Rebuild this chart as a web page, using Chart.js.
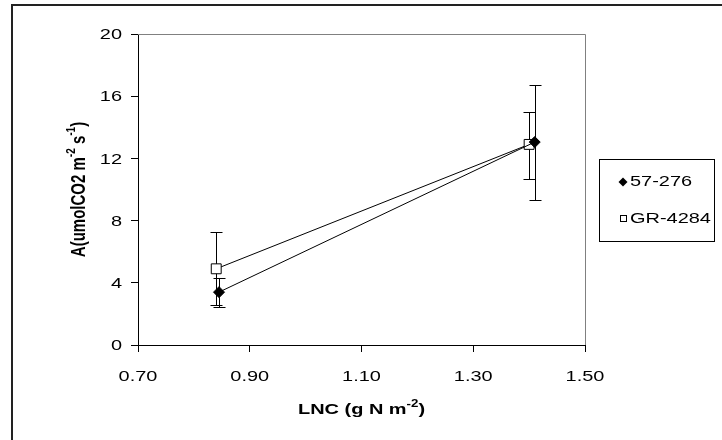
<!DOCTYPE html>
<html>
<head>
<meta charset="utf-8">
<script src="https://cdn.jsdelivr.net/npm/chart.js@4/dist/chart.umd.min.js"></script>
<style>
  html, body { margin: 0; padding: 0; background: #fff; }
  canvas { display: block; }
</style>
</head>
<body>
<canvas id="lnc-chart" width="722" height="440"></canvas>
<script>
// values
const seriesNames = ['57-276', 'GR-4284'];
const lnc57 = [0.845, 1.41];
const a57 = [3.4, 13.05];
const a57Lo = [2.45, 9.35];
const a57Hi = [4.3, 16.7];
const lncGR = [0.84, 1.40];
const aGR = [4.9, 12.9];
const aGRLo = [2.55, 10.7];
const aGRHi = [7.25, 15.0];
const xTicks = [0.70, 0.90, 1.10, 1.30, 1.50];
const yTicks = [0, 4, 8, 12, 16, 20];

const FONT = '"Liberation Sans", Arial, sans-serif';
const STRETCH = 1.33;  // the original picture is stretched sideways
const errLo = [a57Lo, aGRLo];
const errHi = [a57Hi, aGRHi];
const errX = [lnc57, lncGR];

const toPts = (xs, ys) => xs.map((x, i) => ({x: x, y: ys[i]}));

// error bars under the markers
const errorBars = {
    id: 'errorBars',
    beforeDatasetsDraw(chart) {
        const ctx = chart.ctx;
        const xs = chart.scales.x, ys = chart.scales.y;
        ctx.save();
        ctx.strokeStyle = '#000';
        ctx.lineWidth = 1;
        for (let d = 0; d < errX.length; d++) {
            for (let i = 0; i < errX[d].length; i++) {
                const px = Math.round(xs.getPixelForValue(errX[d][i])) + 0.5;
                const lo = Math.round(ys.getPixelForValue(errLo[d][i])) + 0.5;
                const hi = Math.round(ys.getPixelForValue(errHi[d][i])) + 0.5;
                ctx.beginPath();
                ctx.moveTo(px, lo); ctx.lineTo(px, hi);
                ctx.moveTo(px - 6, lo); ctx.lineTo(px + 6, lo);
                ctx.moveTo(px - 6, hi); ctx.lineTo(px + 6, hi);
                ctx.stroke();
            }
        }
        ctx.restore();
    }
};

function stretchedText(ctx, text, x, y, align) {
    ctx.save();
    ctx.translate(x, y);
    ctx.scale(STRETCH, 1);
    ctx.textAlign = align;
    ctx.fillText(text, 0, 0);
    ctx.restore();
}

// text pieces, some as superscripts; returns total width
function drawRich(ctx, parts, size, x, y, measureOnly) {
    let cx = x;
    for (const p of parts) {
        const s = p.sup ? Math.round(size * 0.65) : size;
        ctx.font = 'bold ' + s + 'px ' + FONT;
        if (!measureOnly) ctx.fillText(p.t, cx, p.sup ? y - size * 0.38 : y);
        cx += ctx.measureText(p.t).width;
    }
    return cx - x;
}

const decorations = {
    id: 'decorations',
    beforeDraw(chart) {
        const ctx = chart.ctx;
        ctx.save();
        ctx.fillStyle = '#fff';
        ctx.fillRect(0, 0, chart.width, chart.height);
        ctx.restore();
    },
    afterDraw(chart) {
        const ctx = chart.ctx;
        const a = chart.chartArea;
        const xs = chart.scales.x, ys = chart.scales.y;
        ctx.save();
        // outer frame
        ctx.strokeStyle = '#222';
        ctx.lineWidth = 2;
        ctx.strokeRect(12, 5, 900, 900);

        // plot area border, top and right
        ctx.strokeStyle = '#808080';
        ctx.lineWidth = 1;
        ctx.beginPath();
        ctx.moveTo(a.left, Math.round(a.top) + 0.5);
        ctx.lineTo(Math.round(a.right) + 0.5, Math.round(a.top) + 0.5);
        ctx.lineTo(Math.round(a.right) + 0.5, a.bottom);
        ctx.stroke();

        // tick labels
        ctx.fillStyle = '#000';
        ctx.textBaseline = 'middle';
        ctx.font = '15px ' + FONT;
        for (const t of xs.ticks) {
            stretchedText(ctx, t.value.toFixed(2), xs.getPixelForValue(t.value), 377, 'center');
        }
        for (const t of ys.ticks) {
            stretchedText(ctx, String(t.value), 122, ys.getPixelForValue(t.value) + 1, 'right');
        }

        // axis titles
        ctx.textAlign = 'left';
        const xParts = [{t: 'LNC (g N m'}, {t: '-2', sup: true}, {t: ')'}];
        const xw = drawRich(ctx, xParts, 15, 0, 0, true) * STRETCH;
        ctx.save();
        ctx.translate((a.left + a.right) / 2 - xw / 2, 410);
        ctx.scale(STRETCH, 1);
        drawRich(ctx, xParts, 15, 0, 0);
        ctx.restore();

        const yParts = [{t: 'A(umolCO2 m'}, {t: '-2', sup: true}, {t: ' s'}, {t: '-1', sup: true}, {t: ')'}];
        const yw = drawRich(ctx, yParts, 15, 0, 0, true);
        ctx.save();
        ctx.translate(79, (a.top + a.bottom) / 2);
        ctx.scale(STRETCH, 1);
        ctx.rotate(-Math.PI / 2);
        drawRich(ctx, yParts, 15, -yw / 2, 0);
        ctx.restore();

        // legend
        ctx.strokeStyle = '#000';
        ctx.lineWidth = 1;
        ctx.strokeRect(599.5, 159.5, 115, 82);
        ctx.font = '15px ' + FONT;
        ctx.fillStyle = '#000';
        stretchedText(ctx, seriesNames[0], 630, 182, 'left');
        stretchedText(ctx, seriesNames[1], 630, 219, 'left');
        // diamond
        ctx.beginPath();
        ctx.moveTo(623, 177.5); ctx.lineTo(627.5, 182); ctx.lineTo(623, 186.5); ctx.lineTo(618.5, 182);
        ctx.closePath();
        ctx.fill();
        // square
        ctx.fillStyle = '#fff';
        ctx.fillRect(620.5, 215.5, 6, 6);
        ctx.strokeRect(620.5, 215.5, 6, 6);
        ctx.restore();
    }
};

new Chart(document.getElementById('lnc-chart').getContext('2d'), {
    type: 'scatter',
    data: {
        datasets: [
            {
                label: seriesNames[0],
                data: toPts(lnc57, a57),
                showLine: true,
                borderColor: '#000',
                borderWidth: 1,
                pointStyle: 'rectRot',
                pointRadius: 5.5,
                pointBackgroundColor: '#000',
                pointBorderColor: '#000',
                pointBorderWidth: 1,
            },
            {
                label: seriesNames[1],
                data: toPts(lncGR, aGR),
                showLine: true,
                borderColor: '#000',
                borderWidth: 1,
                pointStyle: 'rect',
                pointRadius: 7,
                pointBackgroundColor: '#fff',
                pointBorderColor: '#000',
                pointBorderWidth: 1,
            },
        ]
    },
    options: {
        responsive: false,
        animation: false,
        devicePixelRatio: 1,
        layout: { padding: { left: 88, top: 34, right: 137, bottom: 45 } },
        plugins: { legend: { display: false }, tooltip: { enabled: false } },
        scales: {
            x: {
                type: 'linear',
                min: 0.7,
                max: 1.5,
                afterBuildTicks: s => { s.ticks = xTicks.map(v => ({value: v})); },
                afterFit: s => { s.height = 50; },
                grid: { drawOnChartArea: false, drawTicks: true, tickLength: 7, color: '#000' },
                border: { display: true, color: '#000' },
                ticks: { display: false },
            },
            y: {
                min: 0,
                max: 20,
                afterBuildTicks: s => { s.ticks = yTicks.map(v => ({value: v})); },
                afterFit: s => { s.width = 50; },
                grid: { drawOnChartArea: false, drawTicks: true, tickLength: 7, color: '#000' },
                border: { display: true, color: '#000' },
                ticks: { display: false },
            },
        },
    },
    plugins: [errorBars, decorations],
});
</script>
</body>
</html>
